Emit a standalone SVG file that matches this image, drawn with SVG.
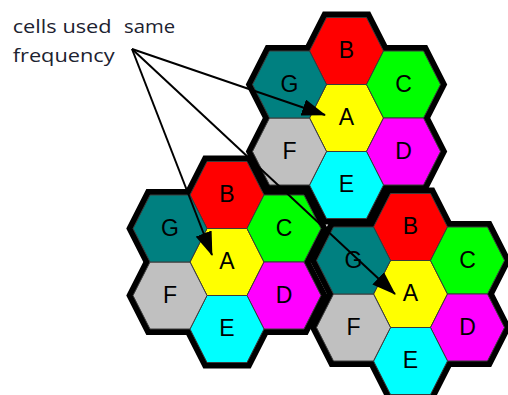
<svg xmlns="http://www.w3.org/2000/svg" xmlns:xlink="http://www.w3.org/1999/xlink" width="508" height="395" viewBox="0 0 508 395">
  <style>
    .rim{fill:#000;stroke:#000;stroke-width:12;stroke-linejoin:miter}
    .cell{stroke:#3a3a3a;stroke-width:1}
    .A{fill:#ffff00}.B{fill:#ff0000}.C{fill:#00ff00}.D{fill:#ff00ff}
    .E{fill:#00ffff}.F{fill:#c0c0c0}.G{fill:#008080}
    .lbl{font-family:"Liberation Sans",Arial,sans-serif;font-size:23px;fill:#000;text-anchor:middle}
    .note{font-family:"Open Sans","Noto Sans",sans-serif;font-size:19px;fill:#1c2230}
    .ray{stroke:#000;stroke-width:2;fill:none;marker-end:url(#head)}
  </style>
  <defs>
    <!-- flat-topped hexagonal cell, centred on the origin -->
    <polygon id="hex" points="-37,0 -20,-33.5 20,-33.5 37,0 20,33.5 -20,33.5"/>
    <!-- thick outline of a 7-cell cluster (drawn under the cells) -->
    <g id="rim7" class="rim">
      <use href="#hex"/>
      <use href="#hex" y="-67"/>
      <use href="#hex" x="57" y="-33.5"/>
      <use href="#hex" x="57" y="33.5"/>
      <use href="#hex" y="67"/>
      <use href="#hex" x="-57" y="33.5"/>
      <use href="#hex" x="-57" y="-33.5"/>
    </g>
    <marker id="head" markerUnits="userSpaceOnUse" viewBox="0 0 24 17" markerWidth="24" markerHeight="17" refX="23" refY="8.5" orient="auto">
      <path d="M0,0 L24,8.5 L0,17 z" fill="#000"/>
    </marker>
  </defs>

  <!-- upper cluster -->
  <g id="cluster1" transform="translate(346.5,118)">
    <use href="#rim7"/>
    <g id="c1-A"><use href="#hex" class="cell A"/><text class="lbl" y="7">A</text></g>
    <g id="c1-B" transform="translate(0,-67)"><use href="#hex" class="cell B"/><text class="lbl" y="7">B</text></g>
    <g id="c1-C" transform="translate(57,-33.5)"><use href="#hex" class="cell C"/><text class="lbl" y="7">C</text></g>
    <g id="c1-D" transform="translate(57,33.5)"><use href="#hex" class="cell D"/><text class="lbl" y="7">D</text></g>
    <g id="c1-E" transform="translate(0,67)"><use href="#hex" class="cell E"/><text class="lbl" y="7">E</text></g>
    <g id="c1-F" transform="translate(-57,33.5)"><use href="#hex" class="cell F"/><text class="lbl" y="7">F</text></g>
    <g id="c1-G" transform="translate(-57,-33.5)"><use href="#hex" class="cell G"/><text class="lbl" y="7">G</text></g>
  </g>

  <!-- lower-left cluster -->
  <g id="cluster2" transform="translate(227,262)">
    <use href="#rim7"/>
    <g id="c2-A"><use href="#hex" class="cell A"/><text class="lbl" y="7">A</text></g>
    <g id="c2-B" transform="translate(0,-67)"><use href="#hex" class="cell B"/><text class="lbl" y="7">B</text></g>
    <g id="c2-C" transform="translate(57,-33.5)"><use href="#hex" class="cell C"/><text class="lbl" y="7">C</text></g>
    <g id="c2-D" transform="translate(57,33.5)"><use href="#hex" class="cell D"/><text class="lbl" y="7">D</text></g>
    <g id="c2-E" transform="translate(0,67)"><use href="#hex" class="cell E"/><text class="lbl" y="7">E</text></g>
    <g id="c2-F" transform="translate(-57,33.5)"><use href="#hex" class="cell F"/><text class="lbl" y="7">F</text></g>
    <g id="c2-G" transform="translate(-57,-33.5)"><use href="#hex" class="cell G"/><text class="lbl" y="7">G</text></g>
  </g>

  <!-- lower-right cluster -->
  <g id="cluster3" transform="translate(410.5,294)">
    <use href="#rim7"/>
    <g id="c3-A"><use href="#hex" class="cell A"/><text class="lbl" y="7">A</text></g>
    <g id="c3-B" transform="translate(0,-67)"><use href="#hex" class="cell B"/><text class="lbl" y="7">B</text></g>
    <g id="c3-C" transform="translate(57,-33.5)"><use href="#hex" class="cell C"/><text class="lbl" y="7">C</text></g>
    <g id="c3-D" transform="translate(57,33.5)"><use href="#hex" class="cell D"/><text class="lbl" y="7">D</text></g>
    <g id="c3-E" transform="translate(0,67)"><use href="#hex" class="cell E"/><text class="lbl" y="7">E</text></g>
    <g id="c3-F" transform="translate(-57,33.5)"><use href="#hex" class="cell F"/><text class="lbl" y="7">F</text></g>
    <g id="c3-G" transform="translate(-57,-33.5)"><use href="#hex" class="cell G"/><text class="lbl" y="7">G</text></g>
  </g>

  <!-- pointers from the caption to each co-channel cell -->
  <g id="connectors">
    <path class="ray" d="M132,49 L325,115"/>
    <path class="ray" d="M132,49 L212,255"/>
    <path class="ray" d="M132,49 L395,294"/>
  </g>

  <g id="caption">
    <text class="note" x="12.7" y="33" textLength="99" lengthAdjust="spacingAndGlyphs">cells used</text>
    <text class="note" x="124" y="33" textLength="51" lengthAdjust="spacingAndGlyphs">same</text>
    <text class="note" x="12.7" y="62" textLength="102" lengthAdjust="spacingAndGlyphs">frequency</text>
  </g>
</svg>
